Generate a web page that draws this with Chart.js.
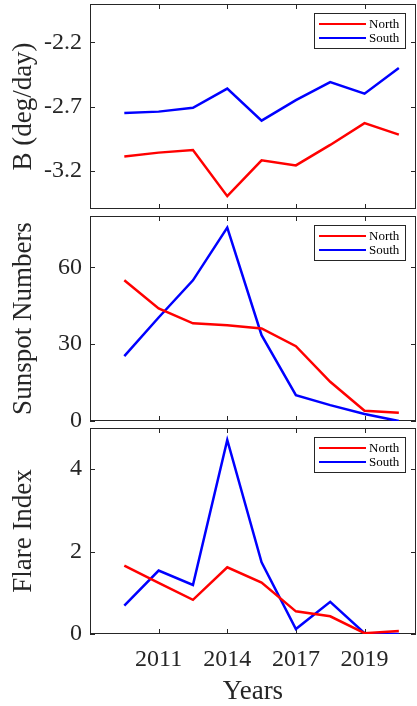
<!DOCTYPE html>
<html>
<head>
<meta charset="utf-8">
<script src="https://cdn.jsdelivr.net/npm/chart.js@4.4.0/dist/chart.umd.min.js"></script>
<style>
    html, body { margin: 0; padding: 0; background: #ffffff; }
    #wrap { position: relative; width: 417px; height: 706px; }
    #wrap canvas { position: absolute; left: 0; top: 0; pointer-events: none; }
</style>
</head>
<body>
<div id="wrap">
    <canvas id="panelB" width="417" height="706"></canvas>
    <canvas id="panelSsn" width="417" height="706"></canvas>
    <canvas id="panelFlare" width="417" height="706"></canvas>
</div>
<script>
// x positions of the 9 samples, and the labelled ticks underneath
const points = [1, 2, 3, 4, 5, 6, 7, 8, 9];
const tickPositions = [2, 4, 6, 8];
const tickLabels = ['2011', '2014', '2017', '2019'];

// B (deg/day)
const bNorth = [-3.09, -3.06, -3.04, -3.40, -3.12, -3.16, -3.00, -2.83, -2.92];
const bSouth = [-2.75, -2.74, -2.71, -2.56, -2.81, -2.65, -2.51, -2.60, -2.40];
const bTicks = [-3.2, -2.7, -2.2];

// Sunspot numbers
const ssnNorth = [54.9, 43.9, 38.1, 37.4, 36.1, 29.2, 15.3, 4.0, 3.2];
const ssnSouth = [25.3, 40.4, 54.9, 75.5, 33.5, 10.1, 6.2, 2.7, 0.0];
const ssnTicks = [0, 30, 60];

// Flare index
const flareNorth = [1.66, 1.24, 0.83, 1.62, 1.25, 0.55, 0.43, 0.02, 0.07];
const flareSouth = [0.69, 1.54, 1.19, 4.71, 1.74, 0.12, 0.78, 0.02, 0.0];
const flareTicks = [0, 2, 4];

const seriesNames = ['North', 'South'];
const seriesColors = ['#ff0000', '#0000ff'];

const AXIS_COLOR = '#262626';
const FONT = "'Liberation Serif', 'Times New Roman', serif";
Chart.defaults.font.family = FONT;
Chart.defaults.color = AXIS_COLOR;

// box around the axes with inward ticks on all four sides (MATLAB style)
const boxPlugin = {
    id: 'boxPlugin',
    beforeDatasetsDraw(chart) {
        const { ctx, chartArea: a, scales } = chart;
        const tl = 5;
        ctx.save();
        ctx.strokeStyle = AXIS_COLOR;
        ctx.lineWidth = 1;
        ctx.strokeRect(a.left + 0.5, a.top + 0.5, a.right - a.left - 1, a.bottom - a.top - 1);
        ctx.beginPath();
        tickPositions.forEach(v => {
            const x = Math.round(scales.x.getPixelForValue(v)) + 0.5;
            ctx.moveTo(x, a.top); ctx.lineTo(x, a.top + tl);
            ctx.moveTo(x, a.bottom); ctx.lineTo(x, a.bottom - tl);
        });
        scales.y.ticks.forEach(t => {
            const y = Math.round(scales.y.getPixelForValue(t.value)) + 0.5;
            ctx.moveTo(a.left, y); ctx.lineTo(a.left + tl, y);
            ctx.moveTo(a.right, y); ctx.lineTo(a.right - tl, y);
        });
        ctx.stroke();
        ctx.restore();
    },
    afterDraw(chart) {
        // legend box in the upper right corner
        const { ctx, chartArea: a } = chart;
        const w = 91, h = 35;
        const x0 = a.right - 102, y0 = a.top + 9;
        ctx.save();
        ctx.fillStyle = '#ffffff';
        ctx.fillRect(x0, y0, w, h);
        ctx.strokeStyle = AXIS_COLOR;
        ctx.lineWidth = 1;
        ctx.strokeRect(x0 + 0.5, y0 + 0.5, w, h);
        ctx.font = '13px ' + FONT;
        ctx.textBaseline = 'middle';
        ctx.textAlign = 'left';
        chart.data.datasets.forEach((ds, i) => {
            const y = y0 + 11 + i * 14;
            ctx.strokeStyle = ds.borderColor;
            ctx.lineWidth = 2;
            ctx.beginPath();
            ctx.moveTo(x0 + 5, y);
            ctx.lineTo(x0 + 52, y);
            ctx.stroke();
            ctx.fillStyle = '#000000';
            ctx.fillText(ds.label, x0 + 55, y + 1);
        });
        ctx.restore();
    }
};

function makePanel(id, north, south, yMin, yMax, yTicks, decimals, title, padTop, padBottom, showX) {
    const datasets = [north, south].map((vals, i) => ({
        label: seriesNames[i],
        data: points.map((x, j) => ({ x: x, y: vals[j] })),
        borderColor: seriesColors[i],
        backgroundColor: seriesColors[i],
        borderWidth: 2.5,
        pointRadius: 0,
        tension: 0
    }));

    return new Chart(document.getElementById(id), {
        type: 'line',
        data: { datasets },
        options: {
            responsive: false,
            animation: false,
            events: [],
            layout: { padding: { top: padTop, bottom: padBottom, left: 0, right: 1 } },
            plugins: { legend: { display: false }, tooltip: { enabled: false } },
            scales: {
                x: {
                    type: 'linear',
                    min: 0,
                    max: 9.5,
                    display: showX,
                    grid: { display: false, drawTicks: false },
                    border: { display: false },
                    afterBuildTicks: s => { s.ticks = tickPositions.map(v => ({ value: v })); },
                    afterFit: s => {
                        s.height = showX ? 72 : 0;
                        s.paddingLeft = 0;
                        s.paddingRight = 0;
                    },
                    ticks: {
                        padding: 11,
                        maxRotation: 0,
                        autoSkip: false,
                        font: { size: 24 },
                        callback: v => tickLabels[tickPositions.indexOf(v)]
                    },
                    title: {
                        display: showX,
                        text: 'Years',
                        font: { size: 27, lineHeight: 1 },
                        padding: { top: 0, bottom: 1 }
                    }
                },
                y: {
                    min: yMin,
                    max: yMax,
                    grid: { display: false, drawTicks: false },
                    border: { display: false },
                    afterBuildTicks: s => { s.ticks = yTicks.map(v => ({ value: v })); },
                    afterFit: s => { s.width = 90; s.paddingTop = 0; s.paddingBottom = 0; },
                    ticks: {
                        padding: 8,
                        font: { size: 24 },
                        callback: v => v.toFixed(decimals)
                    },
                    title: {
                        display: true,
                        text: title,
                        font: { size: 27 },
                        padding: { top: 8, bottom: 0 }
                    }
                }
            }
        },
        plugins: [boxPlugin]
    });
}

makePanel('panelB', bNorth, bSouth, -3.5, -1.9, bTicks, 1, 'B (deg/day)', 4, 497, false);
makePanel('panelSsn', ssnNorth, ssnSouth, 0, 80, ssnTicks, 0, 'Sunspot Numbers', 216, 285, false);
makePanel('panelFlare', flareNorth, flareSouth, 0, 5, flareTicks, 0, 'Flare Index', 428, 0, true);
</script>
</body>
</html>
